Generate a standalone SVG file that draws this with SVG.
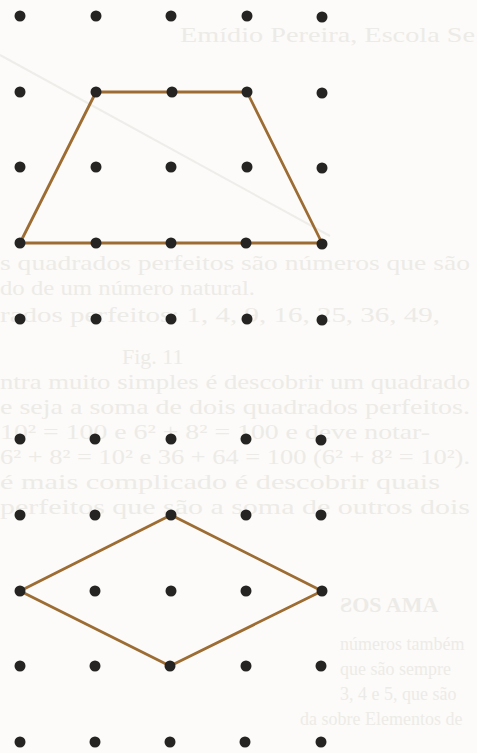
<svg xmlns="http://www.w3.org/2000/svg" width="477" height="753" viewBox="0 0 477 753">
<style>
.dot{fill:#262422}
.shape{fill:none;stroke:#9c6c32;stroke-width:2.8;stroke-linejoin:round}
.ghost{fill:#edebe7;font-family:"Liberation Serif",serif;font-size:22px}
.ghost-s{fill:#edebe7;font-family:"Liberation Serif",serif;font-size:18px}
</style>
<defs>
<circle id="d" r="5.5" class="dot"/>
</defs>
<rect x="0" y="0" width="477" height="753" fill="#fcfbf9"/>
<g id="bleed-through">
<line x1="0" y1="55" x2="330" y2="236" stroke="#eeedea" stroke-width="2"/>
<text class="ghost" x="180" y="42" textLength="295" lengthAdjust="spacingAndGlyphs">Emídio Pereira, Escola Se</text>
<text class="ghost" x="0" y="270" textLength="470" lengthAdjust="spacingAndGlyphs">s quadrados perfeitos são números que são</text>
<text class="ghost" x="0" y="295" textLength="255" lengthAdjust="spacingAndGlyphs">do de um número natural.</text>
<text class="ghost" x="0" y="322" textLength="440" lengthAdjust="spacingAndGlyphs">rados perfeitos: 1, 4, 9, 16, 25, 36, 49,</text>
<text class="ghost" x="122" y="364" font-size="15">Fig. 11</text>
<text class="ghost" x="0" y="389" textLength="470" lengthAdjust="spacingAndGlyphs">ntra muito simples é descobrir um quadrado</text>
<text class="ghost" x="0" y="414" textLength="470" lengthAdjust="spacingAndGlyphs">e seja a soma de dois quadrados perfeitos.</text>
<text class="ghost" x="0" y="439" textLength="430" lengthAdjust="spacingAndGlyphs">10² = 100 e 6² + 8² = 100 e deve notar-</text>
<text class="ghost" x="0" y="464" textLength="470" lengthAdjust="spacingAndGlyphs">6² + 8² = 10² e 36 + 64 = 100 (6² + 8² = 10²).</text>
<text class="ghost" x="0" y="489" textLength="440" lengthAdjust="spacingAndGlyphs">é mais complicado é descobrir quais</text>
<text class="ghost" x="0" y="514" textLength="470" lengthAdjust="spacingAndGlyphs">perfeitos que são a soma de outros dois</text>
<text class="ghost" x="340" y="612" font-size="24" font-weight="bold">ƧOS AMA</text>
<text class="ghost-s" x="340" y="650">números também</text>
<text class="ghost-s" x="340" y="675">que são sempre</text>
<text class="ghost-s" x="340" y="700">3, 4 e 5, que são</text>
<text class="ghost-s" x="300" y="725">da sobre Elementos de</text>
</g>
<g id="connectors">
<polygon id="trapezoid" class="shape" points="96,92 247,92 322,243 20,243"/>
<polygon id="rhombus" class="shape" points="171,515 322,591 170,666 20,591"/>
</g>
<g id="grid-top">
<use href="#d" x="20" y="16"/><use href="#d" x="96" y="16"/><use href="#d" x="171" y="16"/><use href="#d" x="247" y="16"/><use href="#d" x="322" y="17"/>
<use href="#d" x="20" y="92"/><use href="#d" x="96" y="92"/><use href="#d" x="172" y="92"/><use href="#d" x="247" y="92"/><use href="#d" x="322" y="93"/>
<use href="#d" x="20" y="167"/><use href="#d" x="96" y="167"/><use href="#d" x="171" y="167"/><use href="#d" x="247" y="167"/><use href="#d" x="322" y="168"/>
<use href="#d" x="20" y="243"/><use href="#d" x="96" y="243"/><use href="#d" x="171" y="243"/><use href="#d" x="246" y="243"/><use href="#d" x="322" y="244"/>
<use href="#d" x="20" y="319"/><use href="#d" x="96" y="319"/><use href="#d" x="171" y="319"/><use href="#d" x="247" y="319"/><use href="#d" x="322" y="320"/>
</g>
<g id="grid-bottom">
<use href="#d" x="20" y="439"/><use href="#d" x="95" y="439"/><use href="#d" x="171" y="439"/><use href="#d" x="246" y="439"/><use href="#d" x="321" y="440"/>
<use href="#d" x="20" y="515"/><use href="#d" x="95" y="515"/><use href="#d" x="171" y="515"/><use href="#d" x="246" y="515"/><use href="#d" x="321" y="515"/>
<use href="#d" x="20" y="591"/><use href="#d" x="95" y="591"/><use href="#d" x="171" y="591"/><use href="#d" x="246" y="591"/><use href="#d" x="322" y="591"/>
<use href="#d" x="20" y="666"/><use href="#d" x="95" y="666"/><use href="#d" x="170" y="666"/><use href="#d" x="246" y="666"/><use href="#d" x="321" y="666"/>
<use href="#d" x="20" y="742"/><use href="#d" x="95" y="742"/><use href="#d" x="170" y="742"/><use href="#d" x="245" y="742"/><use href="#d" x="321" y="742"/>
</g>
</svg>
